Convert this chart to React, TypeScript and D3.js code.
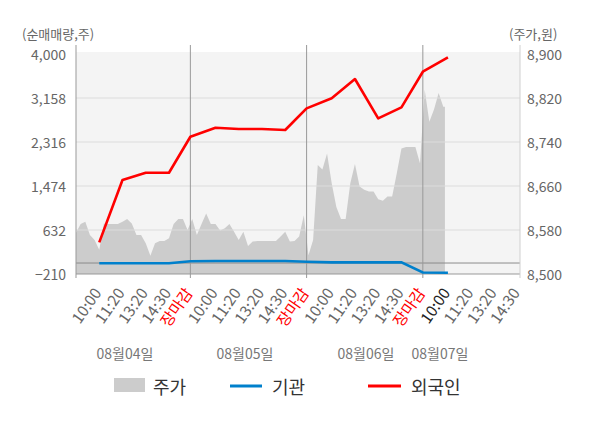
import * as d3 from "d3";

const days = ["08월04일", "08월05일", "08월06일", "08월07일"];
const slots = ["10:00", "11:20", "13:20", "14:30", "장마감"];
const leftTicks = [-210, 632, 1474, 2316, 3158, 4000];
const rightTicks = [8500, 8580, 8660, 8740, 8820, 8900];

// 순매매량 (주), one value per slot: 08/04 10:00 ... 08/07 10:00
const foreign = [396, 1588, 1728, 1728, 2417, 2589, 2564, 2564, 2545, 2960, 3152, 3521, 2769, 2979, 3661, 3936];
const institution = [-5, -5, -5, -5, 35, 38, 38, 38, 38, 25, 13, 13, 13, 13, -182, -186];

// 주가 (원), sampled every 0.2 slot from each day's open
const price0804 = [8575, 8591, 8595, 8571, 8562, 8544, 8592, 8591, 8591, 8591, 8595, 8600, 8592, 8571, 8571, 8556, 8533, 8556, 8560, 8560, 8565, 8591, 8600, 8600, 8580];
const price0805 = [8600, 8571, 8591, 8610, 8591, 8591, 8579, 8583, 8591, 8577, 8562, 8577, 8551, 8559, 8560, 8560, 8560, 8560, 8560, 8568, 8577, 8559, 8560, 8568, 8607];
const price0806 = [8534, 8562, 8698, 8690, 8719, 8665, 8622, 8600, 8600, 8665, 8700, 8659, 8653, 8650, 8650, 8636, 8633, 8641, 8641, 8683, 8728, 8731, 8731, 8731, 8701];
const price0807 = [8835, 8777, 8799, 8829, 8804];

const font = '"Noto Sans CJK KR", "Noto Sans", sans-serif';
const closeShift = -0.08; // 장마감 sits slightly before the next day's open
const slotPos = (d: number, s: number) => d * 5 + (s === 4 ? 4 + 1 + closeShift : s + 1);

export default function App() {
  const width = 600;
  const height = 428;
  const plotLeft = 76;
  const plotRight = 520;
  const plotTop = 52;
  const plotBottom = 274;

  const x = d3.scaleLinear().domain([0, 19.1]).range([plotLeft, plotRight]);
  const yL = d3.scaleLinear().domain([-210, 4000]).range([plotBottom, 54]);
  const yR = d3.scaleLinear().domain([8500, 8900]).range([plotBottom, 54]);

  const pricePts: [number, number][] = [price0804, price0805, price0806, price0807].flatMap((arr, d) =>
    arr.map((v, i) => [d * 5 + i * 0.2, v] as [number, number])
  );
  pricePts.push([15.87, price0807[price0807.length - 1]]);

  const area = d3
    .area<[number, number]>()
    .x((p) => x(p[0]))
    .y0(plotBottom)
    .y1((p) => yR(p[1]));

  const linePos = foreign.map((_, i) => slotPos(Math.floor(i / 5), i % 5));
  const line = d3
    .line<number>()
    .x((_, i) => x(linePos[i]))
    .y((v) => yL(v));

  const tickItems: { label: string; pos: number; color: string }[] = [];
  days.forEach((_, d) =>
    slots.forEach((label, s) => {
      if (d === 3 && s === 4) return;
      tickItems.push({
        label,
        pos: slotPos(d, s),
        color: s === 4 ? "#ff0000" : d === 3 && s === 0 ? "#222" : "#666",
      });
    })
  );

  const separators = [0, 1, 2].map((d) => x(slotPos(d, 4)));
  const dayLabelX = [125, 245, 366, 440];

  return (
    <svg
      width={width}
      height={height}
      style={{ position: "absolute", left: 0, top: 0, fontFamily: font }}
    >
      <rect x={plotLeft} y={plotTop} width={plotRight - plotLeft} height={plotBottom - plotTop} fill="#f4f4f4" />
      <path d={area(pricePts) ?? ""} fill="#cccccc" />

      {leftTicks.slice(1, -1).map((t) => (
        <line key={t} x1={plotLeft} x2={plotRight} y1={yL(t)} y2={yL(t)} stroke="#dcdcdc" />
      ))}
      <line x1={plotLeft} x2={plotRight} y1={yL(0)} y2={yL(0)} stroke="#8c8c8c" />
      <line x1={plotLeft} x2={plotRight} y1={plotBottom} y2={plotBottom} stroke="#999" />

      <line x1={plotLeft} x2={plotLeft} y1={45} y2={278} stroke="#999" />
      {separators.map((sx) => (
        <line key={sx} x1={sx} x2={sx} y1={45} y2={278} stroke="#999" />
      ))}
      <line x1={plotRight} x2={plotRight} y1={45} y2={278} stroke="#d0d0d0" />

      <path d={line(institution) ?? ""} fill="none" stroke="#0080cc" strokeWidth={2.6} />
      <path d={line(foreign) ?? ""} fill="none" stroke="#ff0000" strokeWidth={2.6} strokeLinejoin="round" />

      <text x={22} y={33} fontSize={13} fill="#666" dominantBaseline="central">
        (순매매량,주)
      </text>
      <text x={509} y={33} fontSize={13} fill="#666" dominantBaseline="central">
        (주가,원)
      </text>

      {leftTicks.map((t) => (
        <text key={t} x={66} y={yL(t)} fontSize={14} fill="#666" textAnchor="end" dominantBaseline="central">
          {d3.format(",")(t)}
        </text>
      ))}
      {rightTicks.map((t) => (
        <text key={t} x={527} y={yR(t)} fontSize={14} fill="#666" dominantBaseline="central">
          {d3.format(",")(t)}
        </text>
      ))}

      {tickItems.map((t, i) => (
        <text
          key={i}
          transform={`translate(${x(t.pos) + 3},${293}) rotate(-55)`}
          fontSize={15.5}
          fill={t.color}
          textAnchor="end"
        >
          {t.label}
        </text>
      ))}

      {days.map((d, i) => (
        <text key={d} x={dayLabelX[i]} y={353} fontSize={14} fill="#777" textAnchor="middle" dominantBaseline="central">
          {d}
        </text>
      ))}

      <rect x={114} y={378} width={31} height={14} fill="#cccccc" />
      <text x={153} y={386} fontSize={18} fill="#333" dominantBaseline="central">
        주가
      </text>
      <line x1={230} x2={262} y1={386} y2={386} stroke="#0080cc" strokeWidth={3} />
      <text x={272} y={386} fontSize={18} fill="#333" dominantBaseline="central">
        기관
      </text>
      <line x1={368} x2={401} y1={386} y2={386} stroke="#ff0000" strokeWidth={3} />
      <text x={411} y={386} fontSize={18} fill="#333" dominantBaseline="central">
        외국인
      </text>
    </svg>
  );
}
